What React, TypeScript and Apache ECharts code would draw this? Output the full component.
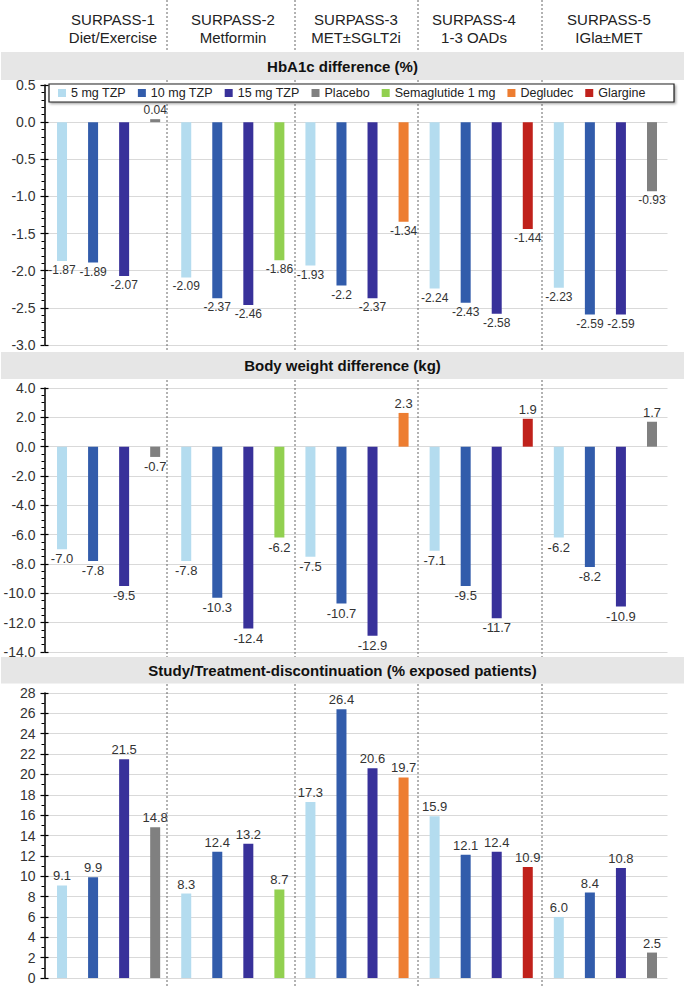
import React, { useEffect, useRef } from 'react';
import * as echarts from 'echarts';

const groupNames = ['SURPASS-1', 'SURPASS-2', 'SURPASS-3', 'SURPASS-4', 'SURPASS-5'];
const groupSubtitles = ['Diet/Exercise', 'Metformin', 'MET±SGLT2i', '1-3 OADs', 'IGla±MET'];
const armNames = ['5 mg TZP', '10 mg TZP', '15 mg TZP', 'Placebo', 'Semaglutide 1 mg', 'Degludec', 'Glargine'];
const comparatorArms = ['Placebo', 'Semaglutide 1 mg', 'Degludec', 'Glargine', 'Placebo'];
const armColors = ['#B4DCEF', '#325CAB', '#38319A', '#808080', '#92D050', '#ED7D31', '#C0211B'];

const hba1c5mg = [-1.87, -2.09, -1.93, -2.24, -2.23];
const hba1c10mg = [-1.89, -2.37, -2.2, -2.43, -2.59];
const hba1c15mg = [-2.07, -2.46, -2.37, -2.58, -2.59];
const hba1cComparator = [0.04, -1.86, -1.34, -1.44, -0.93];

const weight5mg = [-7.0, -7.8, -7.5, -7.1, -6.2];
const weight10mg = [-7.8, -10.3, -10.7, -9.5, -8.2];
const weight15mg = [-9.5, -12.4, -12.9, -11.7, -10.9];
const weightComparator = [-0.7, -6.2, 2.3, 1.9, 1.7];

const disc5mg = [9.1, 8.3, 17.3, 15.9, 6.0];
const disc10mg = [9.9, 12.4, 26.4, 12.1, 8.4];
const disc15mg = [21.5, 13.2, 20.6, 12.4, 10.8];
const discComparator = [14.8, 8.7, 19.7, 10.9, 2.5];

const panelTitles = [
  'HbA1c difference (%)',
  'Body weight difference (kg)',
  'Study/Treatment-discontinuation (% exposed patients)',
];

const FONT = '"Liberation Sans", Arial, Helvetica, sans-serif';

export default function App() {
  const ref = useRef<HTMLDivElement>(null);

  useEffect(() => {
    document.body.style.margin = '0';
    if (!ref.current) return;
    const chart = echarts.init(ref.current, undefined, { renderer: 'svg' });

    const categories: string[] = [];
    groupNames.forEach((g, gi) => {
      categories.push(g + '|' + armNames[0], g + '|' + armNames[1], g + '|' + armNames[2], g + '|' + comparatorArms[gi]);
    });

    const panels = [
      { arrays: [hba1c5mg, hba1c10mg, hba1c15mg, hba1cComparator], min: -3, max: 0.5, interval: 0.5, minor: 5,
        fmt: (v: number) => String(v), axisFmt: (v: number) => v.toFixed(1), labelSize: 12 },
      { arrays: [weight5mg, weight10mg, weight15mg, weightComparator], min: -14, max: 4, interval: 2, minor: 4,
        fmt: (v: number) => v.toFixed(1), axisFmt: (v: number) => v.toFixed(1), labelSize: 13 },
      { arrays: [disc5mg, disc10mg, disc15mg, discComparator], min: 0, max: 28, interval: 2, minor: 2,
        fmt: (v: number) => v.toFixed(1), axisFmt: (v: number) => String(v), labelSize: 13 },
    ];

    const grids = [
      { left: 46.5, width: 621, top: 85, height: 260 },
      { left: 46.5, width: 621, top: 388, height: 264 },
      { left: 46.5, width: 621, top: 693, height: 285 },
    ];

    const xAxes: any[] = [];
    const yAxes: any[] = [];
    const series: any[] = [];

    panels.forEach((p, pi) => {
      xAxes.push({
        type: 'category', gridIndex: pi, data: categories,
        axisLine: { show: false }, axisTick: { show: false }, axisLabel: { show: false }, splitLine: { show: false },
      });
      yAxes.push({
        type: 'value', gridIndex: pi, position: 'left', offset: 2,
        min: p.min, max: p.max, interval: p.interval,
        axisLine: { show: true, lineStyle: { color: '#000', width: 1.5 } },
        axisTick: { show: true, length: 4, lineStyle: { color: '#000', width: 1.2 } },
        minorTick: { show: true, splitNumber: p.minor, length: 3, lineStyle: { color: '#000', width: 1 } },
        axisLabel: { fontSize: 14, color: '#333', margin: 9, fontFamily: FONT, formatter: p.axisFmt },
        splitLine: { show: true, lineStyle: { color: '#d9d9d9', width: 1 } },
      });
      yAxes.push({
        type: 'value', gridIndex: pi, position: 'left', offset: 2,
        min: p.min, max: p.max, interval: p.interval,
        axisLine: { show: false },
        axisTick: { show: true, inside: true, length: 4, lineStyle: { color: '#000', width: 1.2 } },
        axisLabel: { show: false },
        splitLine: { show: false },
      });

      armNames.forEach((arm, ai) => {
        const data = categories.map((_, idx) => {
          const g = Math.floor(idx / 4);
          const k = idx % 4;
          const slotArm = k < 3 ? armNames[k] : comparatorArms[g];
          if (slotArm !== arm) return null;
          const v = p.arrays[k][g];
          return {
            value: v,
            label: { position: v < 0 ? 'bottom' : 'top' },
          };
        });
        series.push({
          type: 'bar', name: arm, xAxisIndex: pi, yAxisIndex: pi * 2,
          stack: 'panel' + pi, barWidth: 10, data,
          itemStyle: { color: armColors[ai] },
          label: {
            show: true, distance: 3, fontSize: p.labelSize, color: '#333', fontFamily: FONT,
            formatter: (prm: any) => p.fmt(prm.value),
          },
        });
      });
    });

    const graphics: any[] = [];
    [167, 295, 418, 542].forEach((x) => {
      graphics.push({
        type: 'line', z: 1, silent: true,
        shape: { x1: x, y1: 0, x2: x, y2: 988 },
        style: { stroke: '#666', lineWidth: 1, lineDash: [2, 2] },
      });
    });
    const bands = [
      { y: 52, h: 28 },
      { y: 352, h: 27 },
      { y: 657, h: 26.5 },
    ];
    bands.forEach((b, i) => {
      graphics.push({
        type: 'rect', z: 2, silent: true,
        shape: { x: 1, y: b.y, width: 683, height: b.h },
        style: { fill: '#e6e6e6' },
      });
      graphics.push({
        type: 'text', z: 3, silent: true, x: 342.5, y: b.y + b.h / 2,
        style: {
          text: panelTitles[i], fill: '#111', font: 'bold 15px ' + FONT,
          textAlign: 'center', textVerticalAlign: 'middle',
        },
      });
    });
    const headerX = [113, 233, 356, 474, 609];
    groupNames.forEach((g, i) => {
      graphics.push({
        type: 'text', z: 3, silent: true, x: headerX[i], y: 19,
        style: { text: g, fill: '#222', font: '15px ' + FONT, textAlign: 'center', textVerticalAlign: 'middle' },
      });
      graphics.push({
        type: 'text', z: 3, silent: true, x: headerX[i], y: 37,
        style: { text: groupSubtitles[i], fill: '#222', font: '15px ' + FONT, textAlign: 'center', textVerticalAlign: 'middle' },
      });
    });
    graphics.push({
      type: 'rect', z: 3, silent: true,
      shape: { x: 49, y: 84, width: 625, height: 18 },
      style: {
        fill: '#fff', stroke: '#222', lineWidth: 1.2,
        shadowBlur: 2, shadowColor: 'rgba(0,0,0,0.35)', shadowOffsetX: 1.5, shadowOffsetY: 1.5,
      },
    });

    chart.setOption({
      animation: false,
      textStyle: { fontFamily: FONT },
      grid: grids,
      xAxis: xAxes,
      yAxis: yAxes,
      legend: {
        z: 10, left: 58, top: 86, padding: 0, itemWidth: 8, itemHeight: 8, itemGap: 12,
        icon: 'rect', data: armNames,
        textStyle: { fontSize: 12.5, color: '#222', fontFamily: FONT, lineHeight: 14 },
      },
      graphic: { elements: graphics },
      series,
    });

    return () => chart.dispose();
  }, []);

  return <div ref={ref} style={{ width: 685, height: 988 }} />;
}
